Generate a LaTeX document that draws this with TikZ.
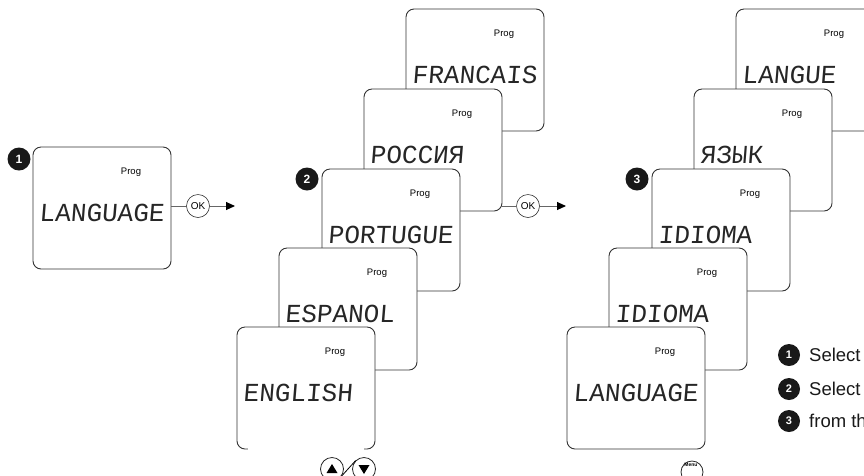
\documentclass[tikz,border=0pt]{standalone}
\usepackage{fontspec}
\setmainfont{Liberation Sans}
\newfontfamily\lcdfont{Liberation Mono}[FakeSlant=0.08]
\usetikzlibrary{arrows.meta,calc}
\newcommand\lcdscreen[4]{%
  \node[screen] (#1) at (#2,#3) {};
  \node[prog] (#1p) at ($(#1.north west)+(98,25)$) {Prog};
  \node[lcd] (#1t) at ($(#1.north west)+(6,66)$) {#4};
}
\begin{document}
\begin{tikzpicture}[x=1pt,y=-1pt,
  screen/.style={draw=black!80, line width=0.9pt, fill=white, rounded corners=8pt,
    minimum width=138pt, minimum height=122pt, anchor=north west, inner sep=0pt, outer sep=0pt},
  prog/.style={font=\fontsize{9.5}{10}\selectfont, inner sep=0pt},
  lcd/.style={font=\lcdfont\fontsize{26}{26}\selectfont, anchor=west, inner sep=0pt, text=black!85},
  badge/.style={circle, fill=black!90, text=white, font=\bfseries\fontsize{12}{12}\selectfont,
    minimum size=23pt, inner sep=0pt},
  lbadge/.style={badge, minimum size=22pt, font=\bfseries\fontsize{11}{11}\selectfont},
  okbtn/.style={circle, draw=black!80, line width=0.6pt, fill=white, minimum size=23pt,
    inner sep=0pt, font=\fontsize{10}{10}\selectfont},
  keybtn/.style={circle, draw=black!85, line width=0.8pt, fill=white, minimum size=23pt, inner sep=0pt},
  conn/.style={draw=black!60, line width=1pt},
  arr/.style={conn, -{Triangle[length=9pt,width=8pt,color=black]}},
  legend/.style={anchor=west, inner sep=0pt, font=\fontsize{18.5}{19}\selectfont, text=black!90}
]
\useasboundingbox (0,0) rectangle (864,475);
\clip (0,0) rectangle (864,475);

% step 1
\lcdscreen{s1}{33}{147}{LANGUAGE}
\node[badge] (n1) at (19,159) {1};
\node[okbtn] (ok1) at (198,206) {OK};
\coordinate (a1) at (235,206);
\draw[conn] (s1.east |- ok1) -- (ok1);
\draw[arr] (ok1) -- (a1);

% step 2
\lcdscreen{fr}{406}{9}{FRANCAIS}
\lcdscreen{ru}{364}{89}{РОССИЯ}
\lcdscreen{pt}{322}{169}{PORTUGUE}
\lcdscreen{es}{279}{248}{ESPANOL}
\lcdscreen{en}{237}{327}{ENGLISH}
\draw[white, line width=2.5pt] ($(en.south west)+(11,0)$) -- ($(en.south east)+(-11,0)$);
\node[badge] (n2) at (307,179) {2};
\node[okbtn] (ok2) at (528,206) {OK};
\coordinate (a2) at (566,206);
\draw[conn] (ru.east |- ok2) -- (ok2);
\draw[arr] (ok2) -- (a2);
\node[keybtn] (up) at (332,469) {};
\node[keybtn] (dn) at (364,469) {};
\fill ($(up)+(0,-5)$) -- ($(up)+(5.5,4)$) -- ($(up)+(-5.5,4)$) -- cycle;
\fill ($(dn)+(0,5)$) -- ($(dn)+(5.5,-4)$) -- ($(dn)+(-5.5,-4)$) -- cycle;
\draw[line width=0.8pt] (up.south east) -- (dn.north west);

% step 3
\lcdscreen{lg}{736}{9}{LANGUE}
\lcdscreen{ya}{694}{89}{ЯЗЫК}
\lcdscreen{id1}{652}{169}{IDIOMA}
\lcdscreen{id2}{609}{248}{IDIOMA}
\lcdscreen{la}{567}{327}{LANGUAGE}
\node[badge] (n3) at (637,179) {3};
\node[keybtn, minimum size=22pt] (menu) at (692,472) {};
\node[font=\bfseries\fontsize{5}{5}\selectfont, inner sep=0pt] (menut) at (691,465) {Menu};

% legend
\node[lbadge] (l1) at (789,355) {1};
\node[lbadge] (l2) at (789,389) {2};
\node[lbadge] (l3) at (789,421) {3};
\node[legend] (t1) at (809,355) {Select};
\node[legend] (t2) at (809,389) {Select};
\node[legend] (t3) at (809,421) {from th};
\end{tikzpicture}
\end{document}
